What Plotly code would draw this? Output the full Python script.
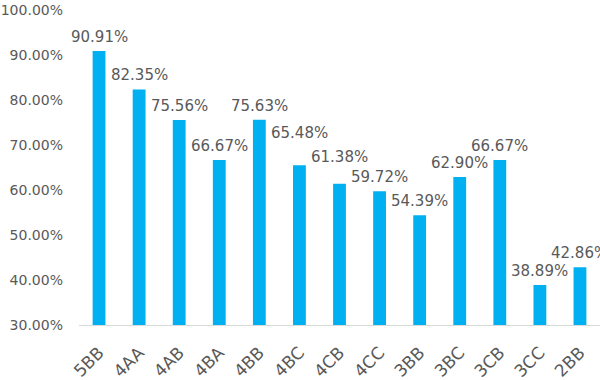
import plotly.graph_objects as go

categories = ["5BB", "4AA", "4AB", "4BA", "4BB", "4BC", "4CB", "4CC", "3BB", "3BC", "3CB", "3CC", "2BB"]
values = [0.9091, 0.8235, 0.7556, 0.6667, 0.7563, 0.6548, 0.6138, 0.5972, 0.5439, 0.6290, 0.6667, 0.3889, 0.4286]
y_ticks = [0.3, 0.4, 0.5, 0.6, 0.7, 0.8, 0.9, 1.0]

font_family = "DejaVu Sans, Liberation Sans, Arial, sans-serif"
text_color = "#595959"

# label nudges (pixels) for labels raised to avoid collisions, as in the original
label_raise = {"4BC": 18, "4CB": 13}

fig = go.Figure()
fig.add_trace(go.Bar(
    x=categories,
    y=values,
    marker=dict(color="#00B0F0", line=dict(width=0)),
    width=0.32,
    hoverinfo="skip",
))

for c, v in zip(categories, values):
    fig.add_annotation(
        x=c, y=v, text=f"{v*100:.2f}%",
        showarrow=False, yanchor="bottom", xanchor="center",
        yshift=3 + label_raise.get(c, 0),
        font=dict(size=15, color=text_color, family=font_family),
    )

fig.update_layout(
    width=600,
    height=380,
    margin=dict(l=79, r=0, t=10, b=55, pad=0),
    paper_bgcolor="white",
    plot_bgcolor="white",
    showlegend=False,
    font=dict(family=font_family, size=15, color=text_color),
    xaxis=dict(
        automargin=False,
        range=[-0.5, len(categories) - 0.5],
        tickangle=-45,
        showgrid=False,
        showline=True,
        linecolor="#d9d9d9",
        linewidth=1,
        ticks="",
        ticklabelstandoff=10,
        tickfont=dict(size=17, color=text_color),
    ),
    yaxis=dict(
        automargin=False,
        range=[0.3, 1.0],
        tickvals=y_ticks,
        tickformat=".2%",
        showgrid=False,
        zeroline=False,
        showline=False,
        ticks="",
        ticklabelstandoff=15,
        tickfont=dict(size=14, color=text_color),
    ),
)

fig.write_html("out.html", config={"displayModeBar": False},
               post_script="document.body.style.margin='0';")
